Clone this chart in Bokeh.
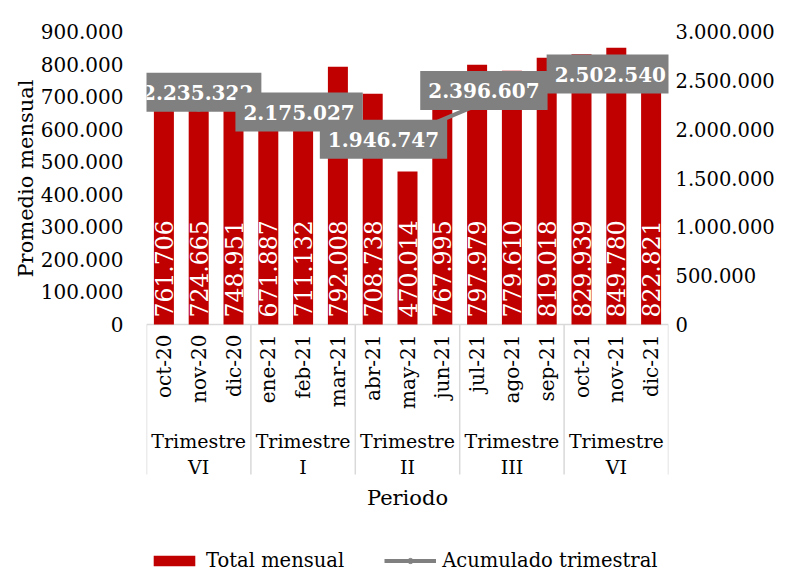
import math
from bokeh.plotting import figure
from bokeh.models import (FactorRange, Range1d, LinearAxis, FixedTicker,
                          CustomJSTickFormatter, Label, Legend, LegendItem,
                          ColumnDataSource, Title)
from bokeh.core.properties import value
from bokeh.embed import file_html
from bokeh.resources import INLINE

# ---------------- data ----------------
months = ["oct-20", "nov-20", "dic-20", "ene-21", "feb-21", "mar-21",
          "abr-21", "may-21", "jun-21", "jul-21", "ago-21", "sep-21",
          "oct-21", "nov-21", "dic-21"]
monthly_total = [761706, 724665, 748951, 671887, 711132, 792008,
                 708738, 470014, 767995, 797979, 779610, 819018,
                 829939, 849780, 822821]
quarter_word = "Trimestre"
quarter_names = ["VI", "I", "II", "III", "VI"]
quarter_mid_month = ["nov-20", "feb-21", "may-21", "ago-21", "nov-21"]
quarter_total = [2235322, 2175027, 1946747, 2396607, 2502540]
left_ticks = [0, 100000, 200000, 300000, 400000, 500000, 600000, 700000, 800000, 900000]
right_ticks = [0, 500000, 1000000, 1500000, 2000000, 2500000, 3000000]

# ---------------- style / layout ----------------
FONT = "DejaVu Serif"
RED = "#c00000"
GREY = "#808080"
AXIS_GREY = "#d9d9d9"
label_offsets = [(-1, 14), (-4, 0), (-24, -5), (-28, 0), (-6, 6)]
CANVAS_W, CANVAS_H = 788, 573
TOP = 31
VALUE_PX = 293                       # height of the value area (0 .. max)
BELOW_PX = CANVAS_H - TOP - VALUE_PX  # category labels + legend area
left_start = -left_ticks[-1] * BELOW_PX / VALUE_PX
right_start = -right_ticks[-1] * BELOW_PX / VALUE_PX
PX = left_ticks[-1] / VALUE_PX       # data units per pixel (left scale)


def es(v):
    return f"{v:,}".replace(",", ".")


p = figure(width=CANVAS_W, height=CANVAS_H,
           x_range=FactorRange(*months),
           y_range=Range1d(left_start, left_ticks[-1]),
           x_axis_type=None, y_axis_type=None,
           output_backend="svg", toolbar_location=None,
           min_border_left=146, min_border_right=120,
           min_border_top=TOP, min_border_bottom=0)
p.extra_y_ranges = {"acum": Range1d(right_start, right_ticks[-1])}
p.outline_line_color = None
p.background_fill_color = "white"
p.border_fill_color = "white"

num_fmt = CustomJSTickFormatter(
    code="return Math.round(tick).toString().replace(/\\B(?=(\\d{3})+(?!\\d))/g, '.');")


def plain(axis):
    axis.axis_line_color = None
    axis.major_tick_line_color = None
    axis.minor_tick_line_color = None
    axis.major_tick_out = 0
    axis.major_tick_in = 0
    axis.minor_tick_out = 0
    axis.minor_tick_in = 0
    axis.major_label_text_font = FONT
    axis.major_label_text_color = "black"


# left axis
ly = LinearAxis(ticker=FixedTicker(ticks=left_ticks), formatter=num_fmt,
                bounds=(0, left_ticks[-1]))
plain(ly)
ly.major_label_standoff = 23
ly.major_label_text_font_size = "20px"
p.add_layout(ly, "left")

# left axis title, centred on the value area
p.add_layout(Title(text="Promedio mensual", align="right", offset=48, standoff=0,
                   text_font=FONT, text_font_size="21px", text_font_style="normal",
                   text_color="black"), "left")

# right axis
ry = LinearAxis(y_range_name="acum", ticker=FixedTicker(ticks=right_ticks),
                formatter=num_fmt, bounds=(0, right_ticks[-1]))
plain(ry)
ry.major_label_standoff = 7
ry.major_label_text_font_size = "19.5px"
p.add_layout(ry, "right")

# ---------------- category axis (drawn in data space) ----------------
per_q = len(months) // len(quarter_names)
bounds = [per_q * q for q in range(len(quarter_names) + 1)]
q_centers = [(bounds[q] + bounds[q + 1]) / 2 for q in range(len(quarter_names))]

p.segment(x0=[bounds[0]], y0=[0], x1=[bounds[-1]], y1=[0],
          line_color=AXIS_GREY, line_width=1.5)
p.segment(x0=bounds, y0=[0] * len(bounds), x1=bounds, y1=[-150 * PX] * len(bounds),
          line_color=AXIS_GREY, line_width=1.5)
p.text(x=months, y=[0] * len(months), text=months, angle=math.pi / 2,
       text_align="right", text_baseline="middle", y_offset=10,
       text_color="black", text_font=value(FONT), text_font_size="20px")
p.text(x=q_centers, y=[0] * len(q_centers), text=[quarter_word] * len(q_centers),
       text_align="center", text_baseline="middle", y_offset=116,
       text_color="black", text_font=value(FONT), text_font_size="19px")
p.text(x=q_centers, y=[0] * len(q_centers), text=quarter_names,
       text_align="center", text_baseline="middle", y_offset=142,
       text_color="black", text_font=value(FONT), text_font_size="19px")
p.text(x=[bounds[-1] / 2], y=[0], text=["Periodo"],
       text_align="center", text_baseline="middle", y_offset=173,
       text_color="black", text_font=value(FONT), text_font_size="21px")

# ---------------- bars ----------------
src = ColumnDataSource(dict(month=months, total=monthly_total,
                            label=[es(v) for v in monthly_total]))
bars = p.vbar(x="month", top="total", width=0.575, source=src,
              fill_color=RED, line_color=None)
p.text(x="month", y=0, text="label", source=src, angle=math.pi / 2,
       text_align="left", text_baseline="middle", y_offset=-7,
       text_color="white", text_font=value(FONT), text_font_size="23.5px")

# ---------------- cumulative line ----------------
line = p.line(x=quarter_mid_month, y=quarter_total, y_range_name="acum",
              line_color=GREY, line_width=4)
dots = p.scatter(x=quarter_mid_month, y=quarter_total, y_range_name="acum",
                 size=10, fill_color=GREY, line_color=GREY)

for m, v, (dx, dy) in zip(quarter_mid_month, quarter_total, label_offsets):
    p.add_layout(Label(x=months.index(m) + 0.5, y=v, y_range_name="acum",
                       text=es(v), x_offset=dx, y_offset=dy,
                       text_align="center", text_baseline="middle",
                       text_color="white", text_font=FONT,
                       text_font_size="20px", text_font_style="bold",
                       background_fill_color=GREY,
                       padding=dict(left=8, right=8, top=12, bottom=12)))

legend = Legend(items=[LegendItem(label="Total mensual", renderers=[bars]),
                       LegendItem(label="Acumulado trimestral", renderers=[line, dots])],
                location=(2, 1), orientation="horizontal",
                glyph_width=52, glyph_height=13, label_standoff=6, spacing=40,
                padding=1, margin=0, border_line_color=None,
                background_fill_alpha=0,
                label_text_font=FONT, label_text_font_size="19.5px",
                label_text_color="black")
p.add_layout(legend, "center")

open("out.html", "w").write(file_html(p, INLINE))
